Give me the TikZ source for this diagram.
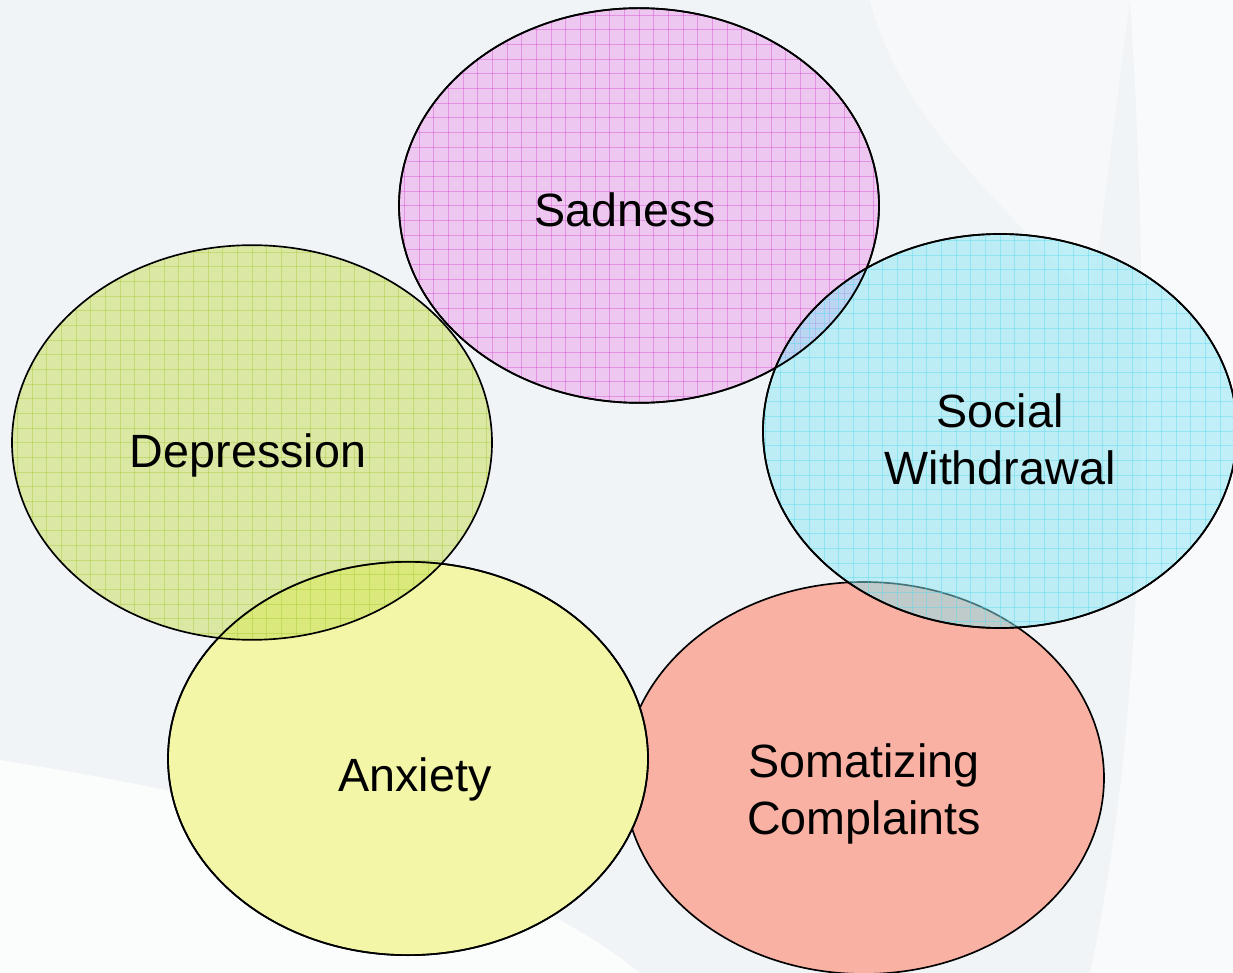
\documentclass[tikz,border=0pt]{standalone}
\usepackage{fontspec}
\setmainfont{Liberation Sans}
\usetikzlibrary{shapes.geometric}
\definecolor{bgc}{HTML}{F1F4F6}
\definecolor{sadc}{HTML}{EC9CEC}
\definecolor{sadg}{HTML}{D040D0}
\definecolor{socc}{HTML}{88E6F4}
\definecolor{socg}{HTML}{50D8F0}
\definecolor{depc}{HTML}{C6DE54}
\definecolor{depg}{HTML}{A0C830}
\definecolor{anxc}{HTML}{F2F6A6}
\definecolor{somc}{HTML}{F8B1A3}
\begin{document}
\begin{tikzpicture}[x=0.75pt,y=-0.75pt,
  blob/.style={ellipse, draw=black, line width=1.25pt, inner sep=0pt,
    minimum width=360pt, minimum height=296pt},
  gridded/.style={path picture={
    \foreach \i in {-17,...,17}{
      \draw[#1, line width=0.45pt, opacity=0.4]
        ([shift={(\i*11pt,-160pt)}]path picture bounding box.center) -- ++(0pt,320pt);
      \draw[#1, line width=0.45pt, opacity=0.4]
        ([shift={(-190pt,\i*11pt)}]path picture bounding box.center) -- ++(380pt,0pt);
    }}},
  rim/.style={draw=black, line width=1.25pt},
  lbl/.style={font=\fontsize{35}{43}\selectfont, align=center, text=black}]
% background
\fill[bgc] (0,0) rectangle (1233,973);
\useasboundingbox (0,0) rectangle (1233,973);
\fill[white, opacity=0.75] (0,760) .. controls (250,800) and (500,860) .. (640,973) -- (0,973) -- cycle;
\fill[white, opacity=0.6] (1130,0) -- (1233,0) -- (1233,973) -- (1090,973) .. controls (1150,700) and (1150,300) .. (1130,0);
\fill[white, opacity=0.4] (870,0) -- (1130,0) .. controls (1110,150) and (1100,250) .. (1090,300) .. controls (1000,200) and (900,120) .. (870,0);
% ellipses
\node[blob, fill=somc, minimum height=294pt] (som) at (864,778) {};
\node[blob, fill=anxc, minimum height=295pt] (anx) at (408,758.5) {};
\node[blob, fill=depc, fill opacity=0.5, gridded=depg] (dep) at (252,442.5) {};
\node[blob, fill=sadc, fill opacity=0.5, gridded=sadg] (sad) at (639,205.5) {};
\node[blob, fill=socc, fill opacity=0.5, gridded=socg, minimum width=355.5pt, minimum height=295.5pt] (soc) at (1000,431) {};
% outlines redrawn on top
\draw[rim] (anx.center) ellipse [x radius=180pt, y radius=147.5pt];
\draw[rim] (sad.center) ellipse [x radius=180pt, y radius=148pt];
\draw[rim] (soc.center) ellipse [x radius=177.75pt, y radius=147.75pt];
% labels
\node[lbl] (tsad) at (625,210) {Sadness};
\node[lbl] (tdep) at (248,455) {Depression};
\node[lbl] (tsoc) at (1000,439) {Social\\Withdrawal};
\node[lbl] (tanx) at (415,779) {Anxiety};
\node[lbl] (tsom) at (864,794) {Somatizing\\Complaints};
\end{tikzpicture}
\end{document}
